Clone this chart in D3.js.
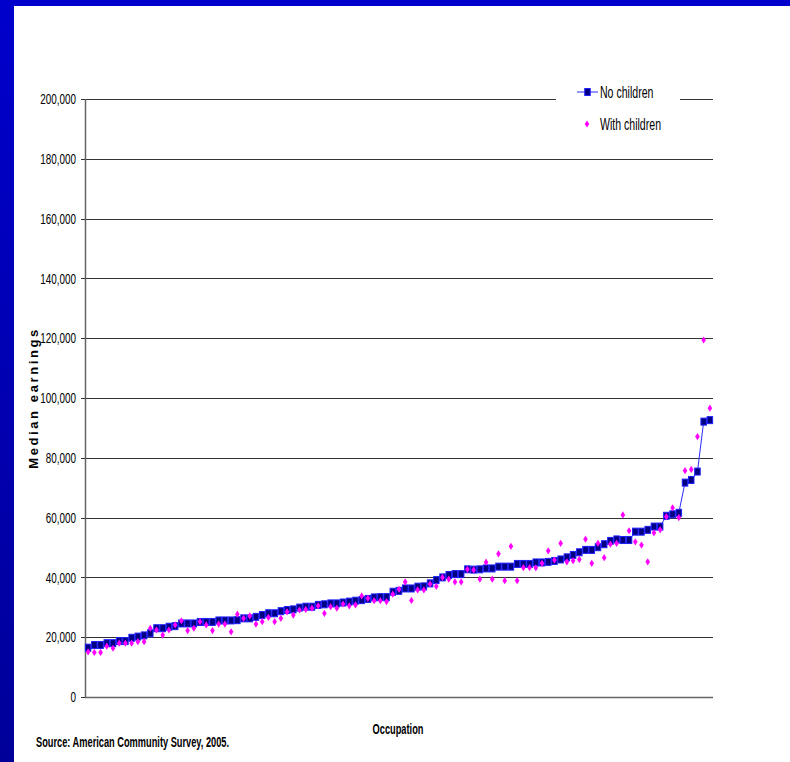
<!DOCTYPE html>
<html>
<head>
<meta charset="utf-8">
<script src="https://cdn.jsdelivr.net/npm/d3@7"></script>
<style>
  html, body { margin: 0; padding: 0; background: #fff; }
  svg { display: block; }
  text { font-family: "Liberation Sans", Arial, sans-serif; fill: #000; }
</style>
</head>
<body>
<div id="chart"></div>
<script>
// ============================================================================
// Median earnings by occupation, with / without children (ACS 2005)
// ============================================================================

// median earnings, thousands of dollars, one value per occupation (sorted)
const noChildren = [
    16.5, 17.4, 17.4, 18.0, 18.0, 18.7, 18.7, 19.8, 20.2, 20.6,
    21.3, 23.0, 23.0, 23.5, 23.7, 24.6, 24.6, 24.6, 25.1, 25.1,
    25.1, 25.6, 25.6, 25.6, 25.7, 26.3, 26.3, 26.8, 27.4, 28.0,
    28.0, 28.7, 29.1, 29.3, 29.9, 30.2, 30.2, 30.8, 31.0, 31.3,
    31.3, 31.6, 31.9, 32.2, 32.4, 32.8, 33.3, 33.4, 33.4, 35.2,
    35.5, 36.3, 36.3, 36.9, 37.0, 38.0, 39.1, 40.0, 40.8, 41.1,
    41.1, 42.7, 42.6, 42.7, 43.0, 43.0, 43.6, 43.6, 43.6, 44.5,
    44.5, 44.5, 45.0, 45.0, 45.2, 45.5, 46.0, 46.7, 47.5, 48.4,
    49.2, 49.2, 50.1, 51.1, 52.2, 52.7, 52.5, 52.5, 55.3, 55.3,
    55.9, 57.0, 57.0, 60.6, 61.1, 61.6, 71.7, 72.6, 75.4, 92.1,
    92.6
];

const withChildren = [
    15.1, 14.9, 14.9, 17.0, 16.3, 18.0, 18.0, 18.0, 18.5, 18.5,
    23.0, 22.4, 20.7, 22.4, 24.1, 25.5, 22.2, 23.0, 25.2, 24.1,
    22.2, 24.4, 24.4, 21.8, 27.7, 26.3, 27.1, 24.4, 25.2, 26.6,
    25.2, 26.3, 28.5, 27.4, 29.1, 29.3, 29.7, 30.5, 28.0, 30.2,
    29.7, 31.1, 30.5, 30.8, 33.8, 33.0, 32.2, 32.2, 31.9, 34.4,
    36.0, 38.5, 32.3, 35.8, 35.8, 37.8, 37.0, 40.0, 39.4, 38.5,
    38.5, 42.7, 42.5, 39.4, 45.1, 39.4, 47.9, 38.9, 50.4, 38.9,
    43.3, 43.3, 43.2, 44.7, 48.9, 45.8, 51.4, 45.2, 45.6, 46.0,
    52.8, 44.7, 51.4, 46.6, 51.1, 51.4, 60.9, 55.6, 51.9, 50.8,
    45.2, 54.9, 55.9, 60.3, 63.3, 60.0, 75.7, 76.1, 87.1, 119.4,
    96.6
];

const yTicks = [0, 20000, 40000, 60000, 80000, 100000, 120000, 140000, 160000, 180000, 200000];
const seriesLabels = ['No children', 'With children'];
const yTitle = 'Median earnings';
const xTitle = 'Occupation';
const sourceNote = 'Source: American Community Survey, 2005.';

const COLORS = {
    frameTop: '#0000cc',
    frameBottom: '#000099',
    grid: '#333',
    axis: '#666',
    line: '#2a2aff',
    square: '#000080',
    squareEdge: '#1f1fff',
    diamond: '#ff00ff'
};

const NARROW = 0.66; // slide text is horizontally squeezed

const width = 790, height = 762;
const margin = { top: 99, right: 77, bottom: 65, left: 85 };
const w = width - margin.left - margin.right;
const h = height - margin.top - margin.bottom;

const svg = d3.select('#chart').append('svg')
    .attr('width', width).attr('height', height);

// Slide frame (blue bands at top and left)
const defs = svg.append('defs');
const grad = defs.append('linearGradient')
    .attr('id', 'frameGrad')
    .attr('x1', 0).attr('y1', 0).attr('x2', 0).attr('y2', 1);
grad.append('stop').attr('offset', '0%').attr('stop-color', COLORS.frameTop);
grad.append('stop').attr('offset', '100%').attr('stop-color', COLORS.frameBottom);

svg.append('rect').attr('x', 0).attr('y', 0).attr('width', 14).attr('height', height)
    .attr('fill', 'url(#frameGrad)');
svg.append('rect').attr('x', 0).attr('y', 0).attr('width', width).attr('height', 6)
    .attr('fill', COLORS.frameTop);

const g = svg.append('g')
    .attr('transform', `translate(${margin.left},${margin.top})`);

const idx = d3.range(noChildren.length);
const xScale = d3.scaleBand().domain(idx).range([0, w]);
const xc = i => xScale(i) + xScale.bandwidth() / 2;
const yScale = d3.scaleLinear().domain([0, 200000]).range([h, 0]);

function narrowText(parent, x, y, str, size, anchor, weight) {
    return parent.append('text')
        .attr('transform', `translate(${x},${y}) scale(${NARROW},1)`)
        .attr('dy', '0.35em')
        .attr('text-anchor', anchor)
        .style('font-size', size + 'px')
        .style('font-weight', weight || 'normal')
        .text(str);
}

// Grid
g.selectAll('.grid-h')
    .data(yTicks.filter(d => d > 0))
    .join('line')
    .attr('x1', 0).attr('x2', w)
    .attr('y1', d => Math.round(yScale(d)) + 0.5).attr('y2', d => Math.round(yScale(d)) + 0.5)
    .attr('stroke', COLORS.grid).attr('stroke-width', 1);

// Axes
g.append('line')
    .attr('x1', 0.5).attr('x2', 0.5).attr('y1', yScale(200000)).attr('y2', h)
    .attr('stroke', COLORS.axis).attr('stroke-width', 1.5);
g.append('line')
    .attr('x1', 0).attr('x2', w).attr('y1', Math.round(h) + 0.5).attr('y2', Math.round(h) + 0.5)
    .attr('stroke', COLORS.axis).attr('stroke-width', 1.5);

g.selectAll('.tick-mark')
    .data(yTicks)
    .join('line')
    .attr('x1', -4).attr('x2', 0)
    .attr('y1', d => Math.round(yScale(d)) + 0.5).attr('y2', d => Math.round(yScale(d)) + 0.5)
    .attr('stroke', COLORS.grid);

const fmt = d3.format(',');
yTicks.forEach(t => narrowText(g, -9, yScale(t), fmt(t), 15, 'end'));

// No children: line + square markers
const line = d3.line().x((d, i) => xc(i)).y(d => yScale(d * 1000));
g.append('path')
    .datum(noChildren)
    .attr('d', line)
    .attr('fill', 'none')
    .attr('stroke', COLORS.line)
    .attr('stroke-width', 1);

g.selectAll('.sq')
    .data(noChildren)
    .join('rect')
    .attr('x', (d, i) => xc(i) - 2.75)
    .attr('y', d => yScale(d * 1000) - 3.5)
    .attr('width', 5.5).attr('height', 7)
    .attr('fill', COLORS.square)
    .attr('stroke', COLORS.squareEdge).attr('stroke-width', 1);

// With children: diamonds
const diamond = 'M0,-3.6L2.3,0L0,3.6L-2.3,0Z';
g.selectAll('.dm')
    .data(withChildren)
    .join('path')
    .attr('transform', (d, i) => `translate(${xc(i)},${yScale(d * 1000)})`)
    .attr('d', diamond)
    .attr('fill', COLORS.diamond);

// Legend
const lg = g.append('g').attr('transform', `translate(${w - 136},-7)`);
lg.append('rect').attr('x', -21).attr('y', -14).attr('width', 124).attr('height', 62).attr('fill', '#fff');
lg.append('line').attr('x1', 0).attr('x2', 21).attr('y1', 0).attr('y2', 0)
    .attr('stroke', COLORS.line).attr('stroke-width', 1);
lg.append('rect').attr('x', 7.75).attr('y', -3.5).attr('width', 5.5).attr('height', 7)
    .attr('fill', COLORS.square).attr('stroke', COLORS.squareEdge);
narrowText(lg, 23, 0, seriesLabels[0], 16, 'start');
lg.append('path').attr('transform', 'translate(10,32)').attr('d', diamond).attr('fill', COLORS.diamond);
narrowText(lg, 23, 32, seriesLabels[1], 16, 'start');

// Titles
svg.append('text')
    .attr('transform', `translate(33,${margin.top + yScale(100000)}) rotate(-90)`)
    .attr('dy', '0.35em')
    .attr('text-anchor', 'middle')
    .style('font-size', '13px')
    .style('font-weight', 'bold')
    .style('letter-spacing', '2.6px')
    .text(yTitle);

narrowText(svg, 398, 729, xTitle, 14, 'middle', 'bold');
narrowText(svg, 36, 742, sourceNote, 14, 'start', 'bold');
</script>
</body>
</html>
